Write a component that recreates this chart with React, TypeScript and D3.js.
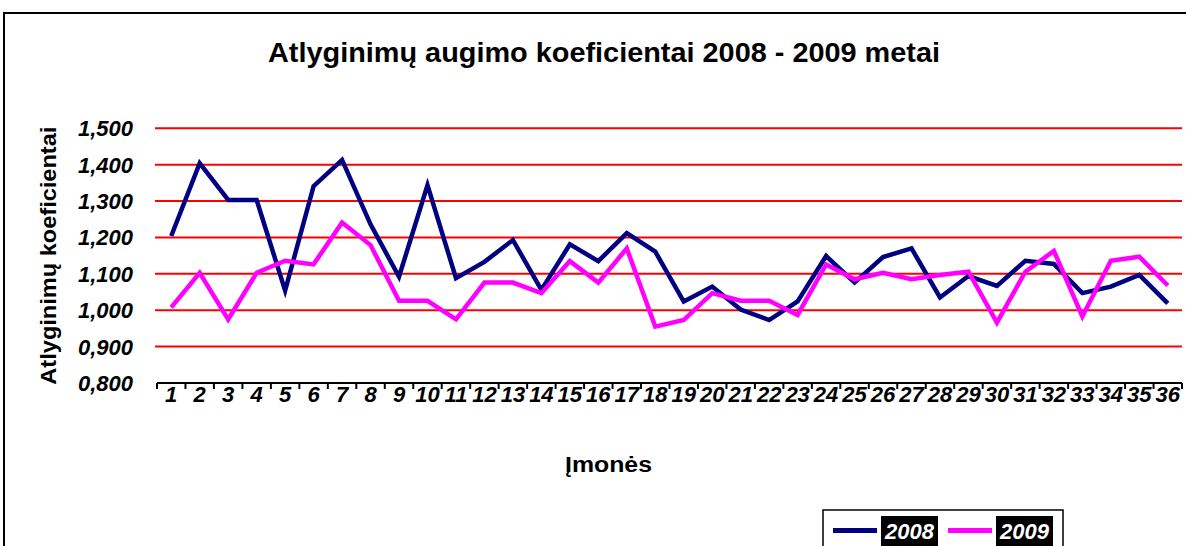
import React from "react";
import * as d3 from "d3";

const categories: string[] = Array.from({ length: 36 }, (_, i) => String(i + 1));
const series2008: number[] = [
  1.204, 1.404, 1.303, 1.303, 1.054, 1.341, 1.413, 1.236, 1.092, 1.344,
  1.088, 1.133, 1.193, 1.056, 1.181, 1.135, 1.212, 1.161, 1.024, 1.065,
  1.002, 0.973, 1.024, 1.149, 1.076, 1.146, 1.170, 1.035, 1.094, 1.067,
  1.136, 1.127, 1.047, 1.065, 1.097, 1.019,
];
const series2009: number[] = [
  1.008, 1.103, 0.975, 1.103, 1.136, 1.126, 1.241, 1.179, 1.026, 1.026,
  0.975, 1.076, 1.076, 1.047, 1.135, 1.076, 1.170, 0.955, 0.973, 1.047,
  1.026, 1.026, 0.987, 1.126, 1.085, 1.103, 1.085, 1.097, 1.106, 0.966,
  1.106, 1.163, 0.983, 1.136, 1.147, 1.068,
];
const yTicks: number[] = [0.8, 0.9, 1.0, 1.1, 1.2, 1.3, 1.4, 1.5];
const seriesNames: string[] = ["2008", "2009"];
const seriesColors: string[] = ["#000080", "#FF00FF"];

const W = 1186;
const H = 546;
const plotLeft = 157;
const plotRight = 1182;
const plotTop = 128.3;
const plotBottom = 383;

const fmt = (v: number) => d3.format(".3f")(v).replace(".", ",");

export default function App() {
  const x = d3.scaleBand<string>().domain(categories).range([plotLeft, plotRight]).padding(0);
  const y = d3.scaleLinear().domain([0.8, 1.5]).range([plotBottom, plotTop]);
  const line = d3
    .line<number>()
    .x((_, i) => (x(categories[i]) as number) + x.bandwidth() / 2)
    .y((d) => y(d));
  const font = "'Liberation Sans', Arial, sans-serif";
  const data = [series2008, series2009];
  const tickEdges = [...categories.map((c) => x(c) as number), plotRight];

  return (
    <svg
      width={W}
      height={H}
      style={{ position: "absolute", left: 0, top: 0, background: "#fff" }}
      fontFamily={font}
    >
      <rect x={4} y={13} width={W + 10} height={H + 10} fill="#fff" stroke="#000" strokeWidth={2} />
      <text
        x={268}
        y={62}
        fontSize={27}
        fontWeight="bold"
        fill="#000"
        textLength={672}
        lengthAdjust="spacingAndGlyphs"
      >
        Atlyginimų augimo koeficientai 2008 - 2009 metai
      </text>
      {yTicks.slice(1).map((t) => (
        <line key={"g" + t} x1={plotLeft - 2} x2={plotRight} y1={y(t)} y2={y(t)} stroke="#FF0000" strokeWidth={2} />
      ))}
      {yTicks.map((t) => (
        <text
          key={"yl" + t}
          x={133}
          y={y(t) + 8}
          textAnchor="end"
          fontSize={22}
          fontWeight="bold"
          fontStyle="italic"
          fill="#000"
        >
          {fmt(t)}
        </text>
      ))}
      <line x1={plotLeft} x2={plotRight} y1={plotBottom} y2={plotBottom} stroke="#000" strokeWidth={2} />
      {tickEdges.map((e, i) => (
        <line key={"t" + i} x1={e} x2={e} y1={plotBottom} y2={plotBottom + 6} stroke="#000" strokeWidth={2} />
      ))}
      {categories.map((c) => (
        <text
          key={"xl" + c}
          x={(x(c) as number) + x.bandwidth() / 2}
          y={402}
          textAnchor="middle"
          fontSize={22}
          fontWeight="bold"
          fontStyle="italic"
          fill="#000"
        >
          {c}
        </text>
      ))}
      <text
        x={565}
        y={472}
        fontSize={22}
        fontWeight="bold"
        fill="#000"
        textLength={87}
        lengthAdjust="spacingAndGlyphs"
      >
        Įmonės
      </text>
      <text
        transform={`translate(56, ${(plotTop + plotBottom) / 2}) rotate(-90)`}
        textAnchor="middle"
        fontSize={22}
        fontWeight="bold"
        fill="#000"
        textLength={258}
        lengthAdjust="spacingAndGlyphs"
      >
        Atlyginimų koeficientai
      </text>
      {data.map((s, i) => (
        <path
          key={"s" + i}
          d={line(s) as string}
          fill="none"
          stroke={seriesColors[i]}
          strokeWidth={4.5}
          strokeLinejoin="miter"
        />
      ))}
      <rect x={823} y={510} width={240} height={50} fill="#fff" stroke="#000" strokeWidth={1.5} />
      {seriesNames.map((n, i) => {
        const x0 = 833 + i * 115;
        return (
          <g key={"lg" + n}>
            <line x1={x0} x2={x0 + 44} y1={530.5} y2={530.5} stroke={seriesColors[i]} strokeWidth={5} />
            <rect x={x0 + 48} y={516} width={57} height={30} fill="#000" />
            <text
              x={x0 + 76.5}
              y={539}
              textAnchor="middle"
              fontSize={22}
              fontWeight="bold"
              fontStyle="italic"
              fill="#fff"
            >
              {n}
            </text>
          </g>
        );
      })}
    </svg>
  );
}
